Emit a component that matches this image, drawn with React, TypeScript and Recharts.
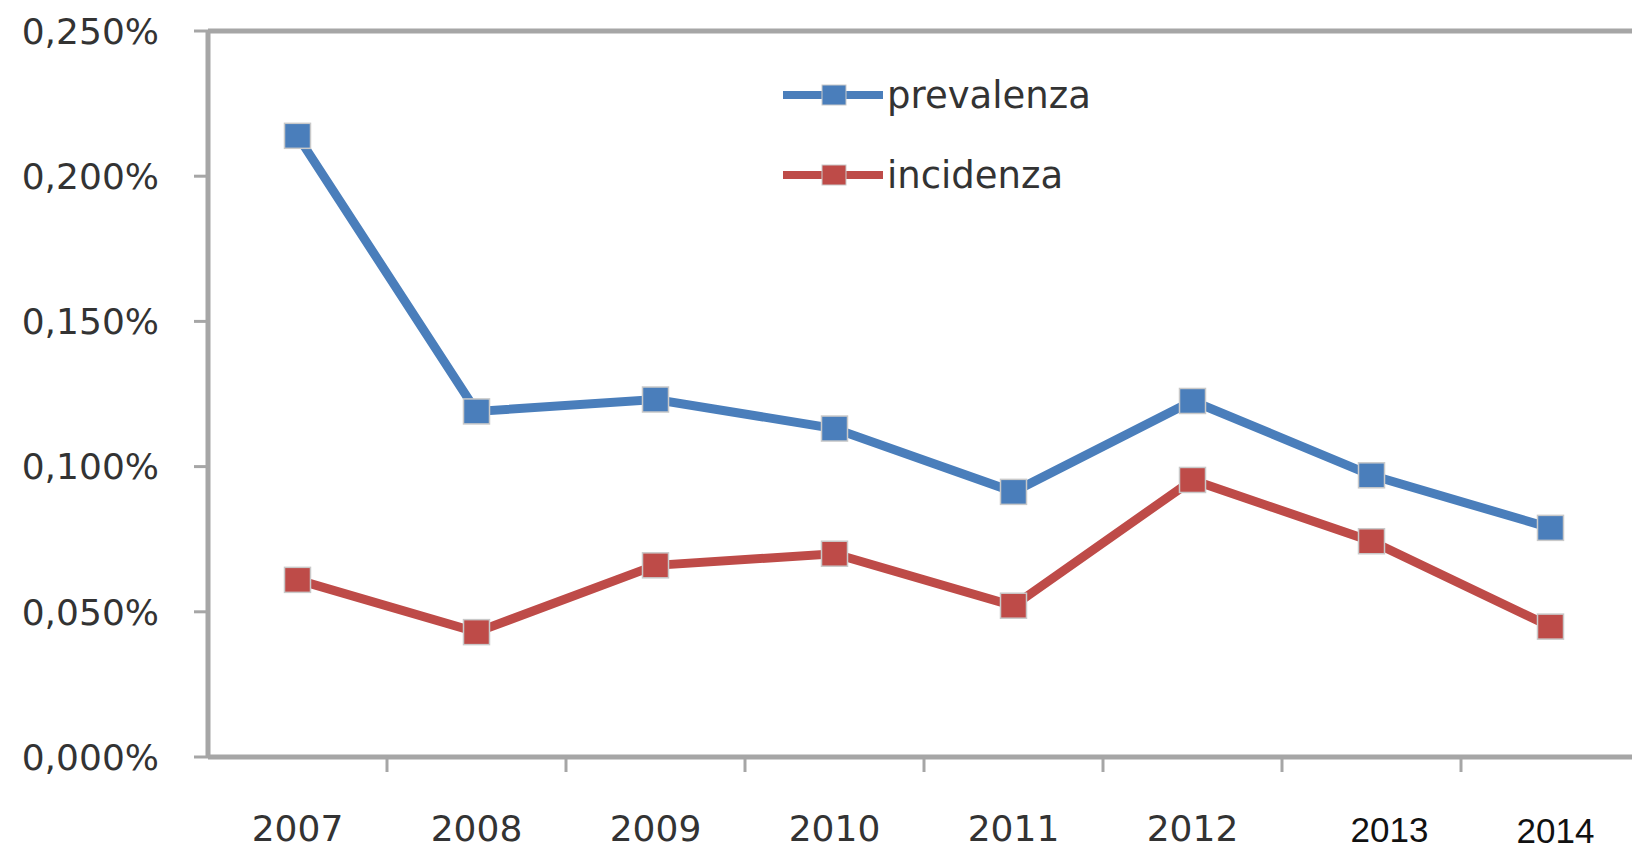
import { Line, LineChart, ReferenceLine, XAxis, YAxis } from "recharts";

const years = ["2007", "2008", "2009", "2010", "2011", "2012", "2013", "2014"];
const prevalenza = [0.2139, 0.119, 0.1231, 0.1131, 0.0913, 0.1226, 0.097, 0.0789];
const incidenza = [0.061, 0.043, 0.066, 0.07, 0.0521, 0.0954, 0.0743, 0.0449];
const yTicks = [0, 0.05, 0.1, 0.15, 0.2, 0.25];

const BLUE = "#4A7EBB";
const RED = "#BE4B48";
const AXIS = "#A6A6A6";
const TEXT = "#333333";
const FONT = "'DejaVu Sans', sans-serif";

const CHART_W = 1650;
const CHART_H = 851;
const Y_AXIS_W = 208;
const MARGIN_RIGHT = 10;
const HALF_STEP = (CHART_W - Y_AXIS_W - MARGIN_RIGHT) / years.length / 2;

const data = years.map((year, i) => ({
  year,
  prevalenza: prevalenza[i],
  incidenza: incidenza[i]
}));

const series = [
  { key: "prevalenza", color: BLUE },
  { key: "incidenza", color: RED }
];

// the last two labels in the original are set in a different font, slightly off
const labelStyle: Record<string, { dx: number; dy: number; font: string; color: string }> = {
  "2013": { dx: 18, dy: 1, font: "'Liberation Sans', Arial, sans-serif", color: "#111" },
  "2014": { dx: 5, dy: 2, font: "'Liberation Sans', Arial, sans-serif", color: "#111" }
};

const formatPct = (v: number) => v.toFixed(3).replace(".", ",") + "%";

function YearTick(props: any) {
  const { x, y, payload, index, width, visibleTicksCount } = props;
  const step = width / visibleTicksCount;
  const st = labelStyle[payload.value] || { dx: 0, dy: 0, font: FONT, color: TEXT };
  return (
    <g>
      {index > 0 && (
        <line x1={x - step / 2} x2={x - step / 2} y1={y} y2={y + 15} stroke={AXIS} strokeWidth={3} />
      )}
      <text
        x={x + st.dx}
        y={y + 84 + st.dy}
        textAnchor="middle"
        fontFamily={st.font}
        fontSize={st.font === FONT ? 36 : 35}
        fill={st.color}>
        {payload.value}
      </text>
    </g>
  );
}

function SquareDot(props: any) {
  const { cx, cy, stroke } = props;
  if (cx == null || cy == null) return null;
  return (
    <rect x={cx - 13} y={cy - 12.5} width={26} height={25} fill={stroke} stroke="#C9C9C9" strokeWidth={1.5} />
  );
}

function ChartLegend() {
  return (
    <div
      style={{
        position: "absolute",
        left: 783,
        top: 55,
        fontFamily: FONT,
        fontSize: 37,
        color: TEXT
      }}>
      {series.map((s) => (
        <div key={s.key} style={{ display: "flex", alignItems: "center", height: 80 }}>
          <svg width={104} height={30}>
            <line x1={0} x2={100} y1={15} y2={15} stroke={s.color} strokeWidth={8} />
            <rect x={39} y={5} width={24} height={20} fill={s.color} stroke="#C9C9C9" strokeWidth={1} />
          </svg>
          <span>{s.key}</span>
        </div>
      ))}
    </div>
  );
}

export default function App() {
  return (
    <div
      style={{
        position: "absolute",
        left: 0,
        top: 0,
        width: 1632,
        height: 851,
        overflow: "hidden",
        background: "#fff"
      }}>
      <LineChart
        width={CHART_W}
        height={CHART_H}
        data={data}
        margin={{ top: 31, right: MARGIN_RIGHT, bottom: 0, left: 0 }}>
        <XAxis
          dataKey="year"
          height={94}
          padding={{ left: HALF_STEP, right: HALF_STEP }}
          axisLine={{ stroke: AXIS, strokeWidth: 5 }}
          tickLine={false}
          tickSize={0}
          tickMargin={0}
          tick={<YearTick />}
          interval={0}
        />
        <YAxis
          width={Y_AXIS_W}
          domain={[0, 0.25]}
          ticks={yTicks}
          tickFormatter={formatPct}
          axisLine={{ stroke: AXIS, strokeWidth: 5 }}
          tickLine={{ stroke: AXIS, strokeWidth: 3 }}
          tickSize={14}
          tickMargin={35}
          tick={{ fill: TEXT, fontSize: 36, fontFamily: FONT }}
        />
        <ReferenceLine y={0.25} stroke={AXIS} strokeWidth={5} />
        {series.map((s) => (
          <Line
            key={s.key}
            dataKey={s.key}
            stroke={s.color}
            strokeWidth={9}
            strokeLinejoin="miter"
            dot={<SquareDot />}
            activeDot={false}
            isAnimationActive={false}
          />
        ))}
      </LineChart>
      <ChartLegend />
    </div>
  );
}
